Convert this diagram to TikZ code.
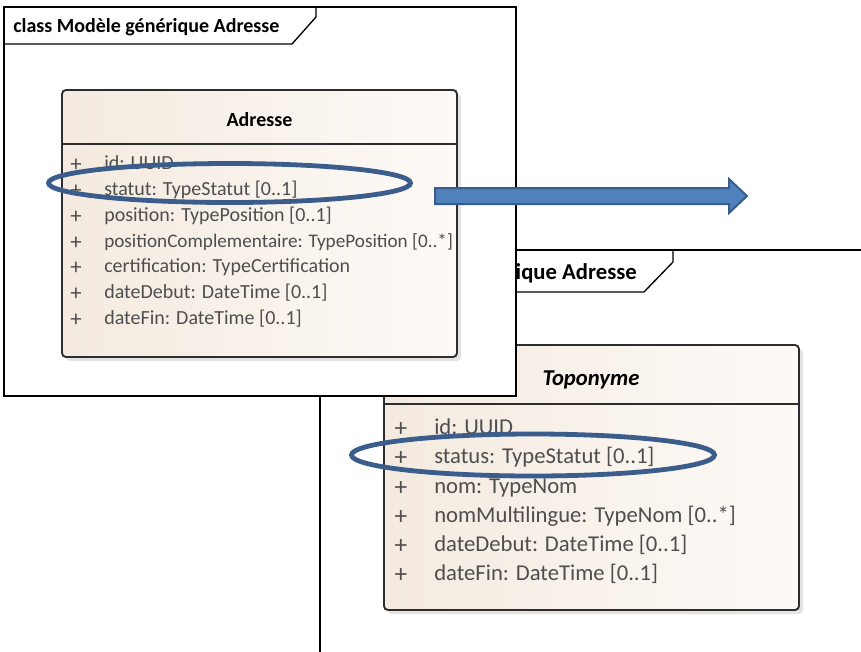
\documentclass[tikz,border=0pt]{standalone}
\usepackage{fontspec}
\setmainfont{Carlito}
\usetikzlibrary{shapes.geometric,shadows}
\definecolor{umlbeige}{RGB}{244,234,223}
\definecolor{umlpale}{RGB}{253,250,247}
\definecolor{umlline}{RGB}{45,45,45}
\definecolor{attrgray}{RGB}{78,78,78}
\definecolor{ringblue}{RGB}{58,93,140}
\definecolor{arrowfill}{RGB}{79,129,189}
\definecolor{arrowline}{RGB}{56,93,138}
\begin{document}
\begin{tikzpicture}[x=0.75pt,y=-0.75pt,
	frameline/.style={draw=black, line width=1pt},
	classbox/.style={draw=umlline, line width=1.4pt, rounded corners=3pt,
		left color=umlbeige, right color=umlpale,
		drop shadow={opacity=0.22, shadow xshift=3pt, shadow yshift=-3pt}},
	frametitle/.style={font=\bfseries, inner sep=0pt},
	plus/.style={text=attrgray, inner sep=0pt},
	attr/.style={text=attrgray, inner sep=0pt, anchor=mid west},
	ring/.style={ellipse, draw=ringblue, line width=3.6pt, inner sep=0pt}]
			\useasboundingbox (0,0) rectangle (861,651);
			\clip (0,0) rectangle (861,651);
			% back diagram
			\draw[frameline] (320,660) -- (320,250) -- (870,250);
			\draw[frameline] (673,250) -- (673,262) -- (644,292) -- (320,292);
			\node[frametitle, font=\fontsize{17}{20}\selectfont\bfseries, anchor=mid east] (backtitle) at (637,276) {ique Adresse};
			\draw[classbox] (384,345) rectangle (799,610);
			\draw[umlline, line width=1.4pt] (384,404) -- (799,404);
			\node[font=\fontsize{17}{20}\selectfont\bfseries\itshape, inner sep=0pt] (toponyme) at (591,380) {Toponyme};
			\node[plus, font=\fontsize{19}{20}\selectfont] (tp1) at (401,430) {+};
			\node[attr, font=\fontsize{17}{20}\selectfont] (ta1) at (434,431) {id: UUID};
			\node[plus, font=\fontsize{19}{20}\selectfont] (tp2) at (401,459) {+};
			\node[attr, font=\fontsize{17}{20}\selectfont] (ta2) at (434,460) {status: TypeStatut [0..1]};
			\node[plus, font=\fontsize{19}{20}\selectfont] (tp3) at (401,489) {+};
			\node[attr, font=\fontsize{17}{20}\selectfont] (ta3) at (434,490) {nom: TypeNom};
			\node[plus, font=\fontsize{19}{20}\selectfont] (tp4) at (401,518) {+};
			\node[attr, font=\fontsize{17}{20}\selectfont] (ta4) at (434,519) {nomMultilingue: TypeNom [0..*]};
			\node[plus, font=\fontsize{19}{20}\selectfont] (tp5) at (401,547) {+};
			\node[attr, font=\fontsize{17}{20}\selectfont] (ta5) at (434,548) {dateDebut: DateTime [0..1]};
			\node[plus, font=\fontsize{19}{20}\selectfont] (tp6) at (401,576) {+};
			\node[attr, font=\fontsize{17}{20}\selectfont] (ta6) at (434,577) {dateFin: DateTime [0..1]};
			\node[ring, minimum width=363*0.75pt, minimum height=42*0.75pt] (statusring) at (533,455) {};
			% front diagram
			\draw[frameline, fill=white] (4,7) rectangle (516,396);
			\draw[frameline] (4,44) -- (292,44) -- (316,17) -- (316,7);
			\node[frametitle, font=\fontsize{15}{18}\selectfont\bfseries, anchor=mid west] (fronttitle) at (13,29) {class Modèle générique Adresse};
			\draw[classbox] (62,90) rectangle (457,357);
			\draw[umlline, line width=1.4pt] (62,144) -- (457,144);
			\node[font=\fontsize{15}{18}\selectfont\bfseries, inner sep=0pt] (adresse) at (259.5,120) {Adresse};
			\node[plus, font=\fontsize{17}{18}\selectfont] (ap1) at (76,165) {+};
			\node[attr, font=\fontsize{15}{18}\selectfont] (aa1) at (104,166) {id: UUID};
			\node[plus, font=\fontsize{17}{18}\selectfont] (ap2) at (76,191) {+};
			\node[attr, font=\fontsize{15}{18}\selectfont] (aa2) at (104,192) {statut: TypeStatut [0..1]};
			\node[plus, font=\fontsize{17}{18}\selectfont] (ap3) at (76,217) {+};
			\node[attr, font=\fontsize{15}{18}\selectfont] (aa3) at (104,218) {position: TypePosition [0..1]};
			\node[plus, font=\fontsize{17}{18}\selectfont] (ap4) at (76,243) {+};
			\node[attr, font=\fontsize{14.4}{18}\selectfont] (aa4) at (104,244) {positionComplementaire: TypePosition [0..*]};
			\node[plus, font=\fontsize{17}{18}\selectfont] (ap5) at (76,268) {+};
			\node[attr, font=\fontsize{15}{18}\selectfont] (aa5) at (104,269) {certification: TypeCertification};
			\node[plus, font=\fontsize{17}{18}\selectfont] (ap6) at (76,294) {+};
			\node[attr, font=\fontsize{15}{18}\selectfont] (aa6) at (104,295) {dateDebut: DateTime [0..1]};
			\node[plus, font=\fontsize{17}{18}\selectfont] (ap7) at (76,320) {+};
			\node[attr, font=\fontsize{15}{18}\selectfont] (aa7) at (104,321) {dateFin: DateTime [0..1]};
			\node[ring, minimum width=362*0.75pt, minimum height=39*0.75pt] (statutring) at (229.5,183) {};
			% block arrow
			\coordinate (arrowtail) at (435,196);
			\coordinate (arrowtip) at (747,196);
			\draw[fill=arrowfill, draw=arrowline, line width=1.5pt, line join=miter]
				(arrowtail) ++(0,-8) -- (729,188) -- (729,179) -- (arrowtip)
				-- (729,213) -- (729,204) -- ([yshift=-8*0.75pt]arrowtail) -- cycle;
		\end{tikzpicture}
\end{document}
